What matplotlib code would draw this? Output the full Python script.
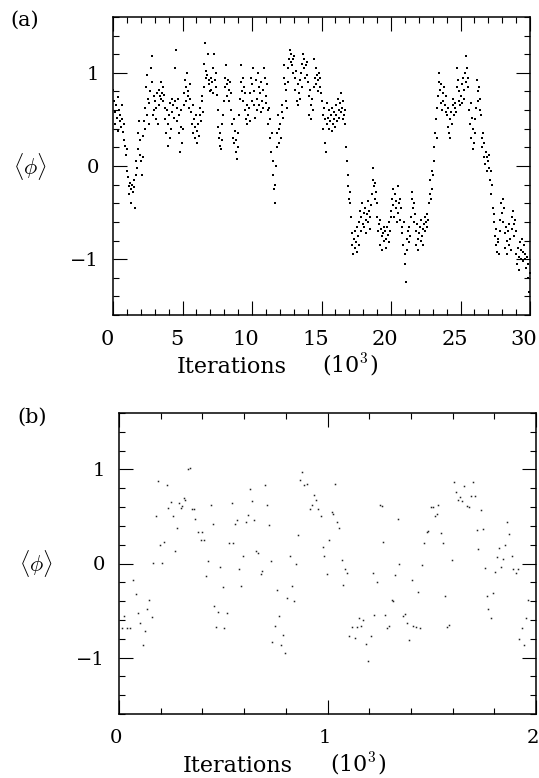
import numpy as np
import matplotlib
matplotlib.use("Agg")
import matplotlib.pyplot as plt
from matplotlib.ticker import MultipleLocator
from matplotlib.transforms import ScaledTranslation

plt.rcParams['font.family'] = 'DejaVu Serif'
plt.rcParams['mathtext.fontset'] = 'cm'

# panel (a): <phi> read every 50 iterations, one row per 1000 iterations
A_STEP = 0.05
A_PHI = [
    [0.82, 0.70, 0.58, 0.45, 0.66, 0.52, 0.38, 0.74, 0.60, 0.48, 0.55, 0.42, 0.66, 0.50, 0.36, 0.28, 0.45, 0.22, 0.12, 0.18],
    [-0.05, -0.12, -0.22, -0.30, -0.18, -0.25, -0.40, -0.20, -0.28, -0.15, -0.23, -0.45, -0.10, 0.05, -0.02, 0.18, 0.35, 0.48, 0.28, 0.12],
    [0.05, -0.10, 0.10, 0.32, 0.48, 0.40, 0.62, 0.85, 0.98, 0.55, 0.72, 0.45, 0.68, 0.80, 1.05, 1.18, 0.90, 0.55, 0.75, 0.60],
    [0.70, 0.50, 0.62, 0.78, 0.45, 0.66, 0.82, 0.75, 0.90, 0.72, 0.78, 0.85, 0.70, 0.76, 0.62, 0.50, 0.35, 0.60, 0.22, 0.45],
    [0.55, 0.30, 0.68, 0.40, 0.72, 0.58, 0.65, 0.52, 0.70, 1.05, 1.25, 0.62, 0.48, 0.72, 0.35, 0.55, 0.15, 0.42, 0.60, 0.25],
    [0.40, 0.65, 0.78, 0.92, 0.70, 0.85, 1.00, 0.75, 0.80, 0.62, 0.88, 0.72, 0.58, 0.45, 0.66, 0.35, 0.50, 0.42, 0.30, 0.55],
    [0.38, 0.25, 0.45, 0.32, 0.55, 0.62, 0.48, 0.70, 0.75, 0.58, 0.85, 1.10, 1.32, 0.95, 1.02, 0.98, 1.20, 0.88, 0.92, 0.80],
    [0.95, 0.82, 0.90, 0.78, 1.05, 1.20, 0.92, 0.85, 1.00, 0.76, 0.60, 0.42, 0.30, 0.22, 0.35, 0.18, 0.28, 0.45, 0.55, 0.70],
    [0.85, 0.95, 1.08, 0.88, 0.75, 0.92, 0.82, 0.70, 0.90, 0.78, 0.60, 0.45, 0.30, 0.50, 0.25, 0.38, 0.15, 0.28, 0.08, 0.20],
    [0.35, 0.55, 0.72, 0.90, 1.08, 0.80, 0.95, 0.70, 0.85, 0.78, 0.60, 0.50, 0.66, 0.45, 0.55, 0.62, 0.48, 0.78, 0.95, 0.70],
    [0.88, 1.05, 0.65, 0.80, 0.52, 0.92, 0.72, 0.60, 1.00, 0.85, 0.65, 0.78, 0.58, 0.90, 0.70, 0.62, 0.82, 1.05, 0.95, 0.75],
    [0.68, 0.88, 0.60, 0.45, 0.62, 0.30, 0.50, 0.15, 0.35, 0.05, -0.10, -0.25, -0.40, -0.20, 0.00, 0.20, 0.35, 0.55, 0.40, 0.25],
    [0.45, 0.30, 0.58, 0.66, 0.52, 0.95, 1.08, 0.88, 0.70, 0.82, 0.62, 0.90, 1.05, 1.15, 1.25, 1.12, 1.20, 1.08, 1.15, 1.00],
    [1.18, 0.95, 0.82, 1.02, 0.70, 0.88, 0.65, 0.78, 0.92, 0.72, 1.00, 0.85, 1.10, 1.20, 1.05, 1.15, 0.95, 1.08, 1.12, 0.98],
    [0.90, 0.75, 0.55, 0.82, 0.65, 0.50, 0.72, 0.60, 0.85, 1.15, 0.95, 1.05, 0.88, 0.98, 0.80, 0.92, 1.00, 0.85, 0.95, 0.78],
    [0.70, 0.55, 0.40, 0.62, 0.25, 0.50, 0.15, 0.45, 0.68, 0.52, 0.40, 0.60, 0.48, 0.55, 0.38, 0.62, 0.45, 0.58, 0.50, 0.42],
    [0.55, 0.65, 0.48, 0.72, 0.60, 0.52, 0.68, 0.58, 0.78, 0.62, 0.50, 0.70, 0.55, 0.60, 0.45, 0.20, 0.05, -0.10, -0.22, -0.35],
    [-0.28, -0.40, -0.55, -0.72, -0.85, -0.95, -0.78, -0.88, -0.70, -0.82, -0.92, -0.65, -0.75, -0.85, -0.60, -0.48, -0.70, -0.55, -0.40, -0.62],
    [-0.50, -0.65, -0.45, -0.58, -0.72, -0.52, -0.38, -0.60, -0.48, -0.55, -0.68, -0.42, -0.30, -0.15, -0.02, -0.22, -0.35, -0.18, -0.28, -0.40],
    [-0.55, -0.70, -0.62, -0.85, -0.58, -0.68, -0.75, -0.90, -0.72, -0.65, -0.80, -0.70, -0.78, -0.88, -0.66, -0.74, -0.82, -0.60, -0.70, -0.55],
    [-0.48, -0.35, -0.25, -0.42, -0.55, -0.30, -0.45, -0.38, -0.60, -0.22, -0.50, -0.40, -0.58, -0.35, -0.45, -0.65, -0.72, -0.85, -0.60, -0.95],
    [-1.05, -1.25, -0.90, -0.78, -0.70, -0.82, -0.65, -0.75, -0.55, -0.35, -0.28, -0.45, -0.40, -0.60, -0.52, -0.70, -0.85, -0.62, -0.78, -0.90],
    [-0.72, -0.65, -0.80, -0.58, -0.75, -0.68, -0.85, -0.62, -0.55, -0.70, -0.60, -0.52, -0.65, -0.58, -0.40, -0.30, -0.15, -0.35, -0.05, -0.25],
    [-0.10, 0.05, 0.20, 0.35, 0.50, 0.30, 0.62, 0.75, 0.90, 1.00, 0.82, 0.68, 0.88, 0.60, 0.78, 0.70, 0.85, 0.65, 0.58, 0.75],
    [0.55, 0.42, 0.62, 0.35, 0.50, 0.30, 0.58, 0.45, 0.65, 0.72, 0.55, 0.62, 0.68, 0.58, 0.85, 1.05, 0.92, 0.70, 0.80, 0.65],
    [0.75, 0.88, 0.68, 0.95, 0.82, 0.72, 1.00, 1.18, 0.90, 1.05, 0.85, 0.95, 0.60, 0.45, 0.68, 0.30, 0.52, 0.18, 0.40, 0.25],
    [0.35, 0.50, 0.62, 0.92, 0.80, 0.70, 0.85, 0.60, 0.72, 0.55, 0.30, 0.20, 0.35, 0.10, 0.25, 0.02, 0.15, -0.05, 0.10, 0.05],
    [-0.02, 0.12, -0.15, -0.05, -0.30, -0.20, -0.45, -0.52, -0.60, -0.75, -0.85, -0.68, -0.92, -0.78, -0.82, -0.95, -0.70, -0.58, -0.40, -0.50],
    [-0.35, -0.60, -0.45, -0.72, -0.88, -0.65, -0.80, -0.95, -0.70, -0.85, -0.62, -0.78, -0.90, -0.55, -0.68, -0.48, -0.62, -0.75, -0.58, -0.70],
    [-0.95, -1.05, -0.88, -1.12, -0.98, -0.82, -1.00, -0.90, -0.78, -1.02, -0.92, -0.85, -1.00, -0.95, -1.10, -0.98, -1.20, -1.05, -1.35, -1.15],
]

# panel (b): iteration number and <phi>
B_ITER = [13, 25, 38, 53, 66, 82, 93, 101, 113, 125, 133, 145, 157, 165, 177, 189, 197, 205, 216, 229,
          237, 248, 258, 269, 277, 289, 296,
          301, 312, 317, 333, 341, 349, 360, 365, 381, 392, 396, 408, 417, 429, 440, 449, 457, 465, 476, 484,
          497, 505, 516, 529, 540, 548, 556, 568, 577, 587, 596, 608, 620, 628, 636, 647, 657, 668, 680, 684,
          700, 708, 719, 729, 735, 748, 759, 767, 775, 785, 796, 807, 818, 828, 838, 847, 858, 870, 879, 889,
          900, 916, 924, 937, 945, 953, 967, 977, 985, 996, 1006, 1020, 1028, 1038, 1047, 1057, 1068, 1076,
          1086, 1092, 1103,
          1116, 1132, 1143, 1153, 1161, 1172, 1185, 1196, 1207, 1217, 1223, 1236, 1252, 1260, 1268, 1276,
          1287, 1297, 1308, 1316, 1324, 1337, 1345, 1364, 1372, 1380, 1392, 1404, 1412, 1423, 1432, 1444,
          1455, 1463, 1476, 1484, 1495, 1504, 1516, 1527, 1532, 1543, 1556, 1564, 1572, 1583, 1596, 1607,
          1616, 1627, 1636, 1645, 1656, 1668, 1679, 1688, 1698, 1707, 1716, 1723, 1736, 1744, 1755, 1764,
          1771, 1783, 1792, 1803, 1813, 1824, 1831, 1843, 1851, 1859, 1872, 1883, 1891, 1903, 1912, 1920,
          1931, 1941, 1951, 1960]
B_PHI = [-0.69, -0.56, -0.69, -0.69, -0.18, -0.32, -0.53, -0.63, -0.87, -0.72, -0.48, -0.39, -0.57, 0.01, 0.51, 0.88, 0.20, 0.01, 0.23, 0.83,
         0.59, 0.65, 0.51, 0.13, 0.38, 0.64, 0.59,
         0.61, 0.70, 0.68, 1.00, 1.02, 0.575, 0.575, 0.47, 0.34, 0.25, 0.33, 0.25, -0.13, 0.025, 0.62, 0.42, -0.45, -0.68, -0.52, -0.04,
         -0.25, -0.69, -0.53, 0.22, 0.64, 0.22, 0.42, 0.46, -0.06, -0.24, 0.08, 0.44, 0.52, 0.79, 0.66, 0.46, 0.13, 0.11, -0.11, -0.08,
         0.83, 0.62, 0.41, 0.025, -0.83, -0.66, -0.28, -0.56, -0.87, -0.76, -0.95, -0.37, 0.085, -0.24, -0.40, -0.01, 0.30, 0.89, 0.97, 0.83,
         0.85, 0.58, 0.62, 0.73, 0.67, 0.58, 0.50, 0.18, 0.08, -0.11, 0.25, 0.55, 0.53, 0.85, 0.44, 0.38, 0.035, -0.23,
         -0.06, -0.10, -0.77,
         -0.68, -0.79, -0.67, -0.58, -0.66, -0.60, -0.86, -1.04, -0.77, -0.10, -0.55, -0.20, 0.62, 0.61, 0.23, -0.55,
         -0.69, -0.66, -0.39, -0.40, -0.12, 0.47, 0.00, -0.56, -0.54, -0.63, -0.81, -0.18, -0.66, -0.67, -0.30, -0.69,
         -0.02, 0.22, 0.33, 0.35, 0.60, 0.60, 0.50, 0.53, 0.62, 0.32, 0.22, -0.35, -0.68, -0.65, 0.04, 0.87,
         0.76, 0.67, 0.71, 0.66, 0.82, 0.61, 0.60, 0.72, 0.87, 0.72, 0.36, 0.15, 0.57, 0.37, -0.05, -0.35,
         -0.48, -0.58, -0.31, -0.09, 0.07, 0.17, -0.04, 0.05, 0.20, 0.44, 0.31, 0.08, -0.06, -0.10, -0.06, -0.80,
         -0.69, -0.87, -0.58, -0.39]

A_XTICKS = [0, 5, 10, 15, 20, 25, 30]
B_XTICKS = [0, 1, 2]
Y_TICKS = [-1, 0, 1]
Y_TICKLABELS = ['\u22121', '0', '1']


def style_axes(ax, xmax, xminor, xticks, xsize, xshift):
    ax.set_xlim(0, xmax)
    ax.set_ylim(-1.6, 1.6)
    ax.set_xticks(xticks)
    ax.set_yticks(Y_TICKS)
    ax.set_yticklabels(Y_TICKLABELS)
    ax.xaxis.set_minor_locator(MultipleLocator(xminor))
    ax.yaxis.set_minor_locator(MultipleLocator(0.2))
    ax.tick_params(which='both', direction='in', top=True, right=True,
                   width=0.8, colors='black')
    ax.tick_params(which='major', length=10)
    ax.tick_params(which='minor', length=4)
    ax.tick_params(axis='x', pad=11, labelsize=xsize)
    ax.tick_params(axis='y', pad=10, labelsize=14)
    for s in ax.spines.values():
        s.set_linewidth(1.1)
    # scanned labels sit a few pixels left of their ticks
    shift = ScaledTranslation(xshift / 100, 0, fig.dpi_scale_trans)
    for lab in ax.get_xticklabels():
        lab.set_transform(lab.get_transform() + shift)
    ax.text(-0.2, 0, r'$\langle\phi\rangle$', transform=ax.get_yaxis_transform(),
            ha='center', va='center', fontsize=16)


fig = plt.figure(figsize=(5.39, 7.78), dpi=100)
ax1 = fig.add_axes([113 / 539, 1 - 315 / 778, 417 / 539, 298 / 778])
ax2 = fig.add_axes([119 / 539, 1 - 714 / 778, 417 / 539, 301 / 778])

phi_a = np.concatenate([np.array(r) for r in A_PHI])
iter_a = A_STEP / 2 + A_STEP * np.arange(len(phi_a))
ax1.plot(iter_a, phi_a, ls='none', marker='s', markersize=2.0, mew=0, color='black')
style_axes(ax1, 30, 1, A_XTICKS, 15, -6)

ax2.plot(np.array(B_ITER) / 1000, B_PHI, ls='none', marker='s', markersize=1.1, mew=0, color='#222222')
style_axes(ax2, 2, 0.2, B_XTICKS, 14, -3)

for x0, x1, ybase in [(177, 322, 373), (183, 330, 772)]:
    fig.text(x0 / 539, 1 - ybase / 778, 'Iterations', fontsize=16, ha='left', va='baseline')
    fig.text(x1 / 539, 1 - ybase / 778, '(10$^3$)', fontsize=16, ha='left', va='baseline')
fig.text(25 / 539, 1 - 20 / 778, '(a)', fontsize=15, ha='center', va='center')
fig.text(32 / 539, 1 - 417 / 778, '(b)', fontsize=15, ha='center', va='center')

fig.savefig('out.png', dpi=100)
